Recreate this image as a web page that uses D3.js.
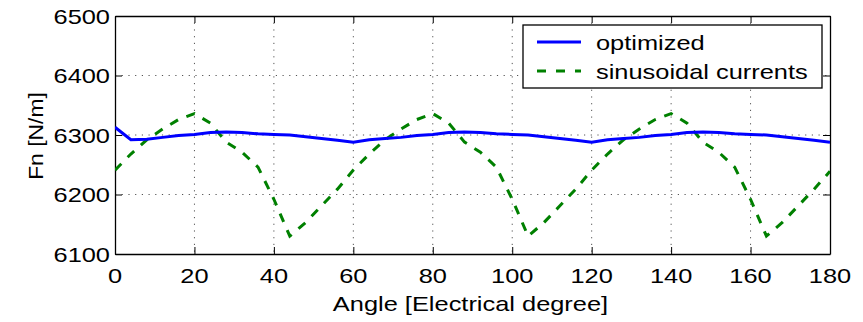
<!DOCTYPE html>
<html>
<head>
<meta charset="utf-8">
<script src="https://cdn.jsdelivr.net/npm/d3@7"></script>
<style>
  html, body { margin: 0; padding: 0; background: #fff; }
  svg { display: block; }
  text { font-family: "Liberation Sans", Arial, sans-serif; fill: #000; }
</style>
</head>
<body>
<script>
// ---- data ----
const angles = [0,4,8,12,16,20,24,28,32,36,40,44,48,52,56,60,64,68,72,76,80,84,88,92,96,100,104,108,112,116,120,124,128,132,136,140,144,148,152,156,160,164,168,172,176,180];
const optimized = [6313,6292,6293,6296,6299,6301,6304,6305,6304,6302,6301,6300,6297,6294,6291,
                   6288,6292,6294,6296,6299,6301,6304,6305,6304,6302,6301,6300,6297,6294,6291,
                   6288,6292,6294,6296,6299,6301,6304,6305,6304,6302,6301,6300,6297,6294,6291,6288];
const sinusoidal = [6241,6268,6292,6310,6326,6336,6320,6288,6271,6246,6192,6130,6153,6181,6209,
                    6241,6268,6292,6310,6326,6336,6320,6288,6271,6246,6192,6130,6153,6181,6209,
                    6241,6268,6292,6310,6326,6336,6320,6288,6271,6246,6192,6130,6153,6181,6209,6239];
const xTicks = [0,20,40,60,80,100,120,140,160,180];
const yTicks = [6100,6200,6300,6400,6500];
const seriesNames = ["optimized", "sinusoidal currents"];
const xTitle = "Angle [Electrical degree]";
const yTitle = "Fn [N/m]";

// ---- layout ----
const W = 863, H = 322;
const L = 115, R = 830, T = 16, B = 254;
const SX = 1.21; // horizontal glyph stretch of the reference
const FS = 21;

const svg = d3.select("body").append("svg").attr("width", W).attr("height", H);

const x = d3.scaleLinear().domain([0, 180]).range([L, R]);
const y = d3.scaleLinear().domain([6100, 6500]).range([B, T]);

// grid
const grid = svg.append("g");
grid.selectAll("line.gx").data(xTicks.slice(1, -1)).join("line")
  .attr("x1", d => x(d)).attr("x2", d => x(d)).attr("y1", T).attr("y2", B)
  .attr("stroke", "#555").attr("stroke-width", 1).attr("stroke-dasharray", "1.2,5.5");
grid.selectAll("line.gy").data(yTicks.slice(1, -1)).join("line")
  .attr("y1", d => y(d)).attr("y2", d => y(d)).attr("x1", L).attr("x2", R)
  .attr("stroke", "#555").attr("stroke-width", 1).attr("stroke-dasharray", "1.2,5.5");

// axes via d3 axis (inward ticks)
const tl = 7;
const axB = svg.append("g").attr("transform", `translate(0,${B})`)
  .call(d3.axisBottom(x).tickValues(xTicks).tickSizeInner(-tl).tickSizeOuter(0).tickFormat(""));
const axT = svg.append("g").attr("transform", `translate(0,${T})`)
  .call(d3.axisTop(x).tickValues(xTicks).tickSizeInner(-tl).tickSizeOuter(0).tickFormat(""));
const axL = svg.append("g").attr("transform", `translate(${L},0)`)
  .call(d3.axisLeft(y).tickValues(yTicks).tickSizeInner(-tl).tickSizeOuter(0).tickFormat(""));
const axR = svg.append("g").attr("transform", `translate(${R},0)`)
  .call(d3.axisRight(y).tickValues(yTicks).tickSizeInner(-tl).tickSizeOuter(0).tickFormat(""));
[axB, axT, axL, axR].forEach(a => {
  a.selectAll("path.domain").attr("stroke", "#000").attr("stroke-width", 1.3);
  a.selectAll(".tick line").attr("stroke", "#000").attr("stroke-width", 1);
});

// tick labels (stretched text)
svg.append("g").selectAll("text").data(xTicks).join("text")
  .attr("transform", d => `translate(${x(d)},283) scale(${SX},1)`)
  .attr("text-anchor", "middle").attr("font-size", FS).text(d => d);
svg.append("g").selectAll("text").data(yTicks).join("text")
  .attr("transform", d => `translate(110,${y(d) + 7.5}) scale(${SX},1)`)
  .attr("text-anchor", "end").attr("font-size", FS).text(d => d);

// axis titles
svg.append("text").attr("transform", `translate(${(L + R) / 2 - 2},311) scale(${SX},1)`)
  .attr("text-anchor", "middle").attr("font-size", FS).text(xTitle);
svg.append("text").attr("transform", `translate(43,${(T + B) / 2 + 1}) rotate(-90) scale(1.09,1)`)
  .attr("text-anchor", "middle").attr("font-size", FS).text(yTitle);

// lines
svg.append("clipPath").attr("id", "clip").append("rect")
  .attr("x", L).attr("y", T).attr("width", R - L).attr("height", B - T);
const line = d3.line().x((d, i) => x(angles[i])).y(d => y(d));
const plot = svg.append("g").attr("clip-path", "url(#clip)");
plot.append("path").datum(sinusoidal).attr("d", line)
  .attr("fill", "none").attr("stroke", "#008000").attr("stroke-width", 3)
  .attr("stroke-dasharray", "9,9");
plot.append("path").datum(optimized).attr("d", line)
  .attr("fill", "none").attr("stroke", "#0000ff").attr("stroke-width", 3);

// legend
const lg = svg.append("g");
lg.append("rect").attr("x", 523).attr("y", 25).attr("width", 299).attr("height", 63)
  .attr("fill", "#fff").attr("stroke", "#000").attr("stroke-width", 1.3);
const legendStyles = [
  { color: "#0000ff", dash: null, ly: 42 },
  { color: "#008000", dash: "9,10", ly: 71 }
];
seriesNames.forEach((name, i) => {
  const s = legendStyles[i];
  const l = lg.append("line").attr("x1", 537).attr("x2", 581).attr("y1", s.ly).attr("y2", s.ly)
    .attr("stroke", s.color).attr("stroke-width", 3);
  if (s.dash) l.attr("stroke-dasharray", s.dash);
  lg.append("text").attr("transform", `translate(596,${s.ly + 7.5}) scale(${SX},1)`)
    .attr("font-size", FS).text(name);
});
</script>
</body>
</html>
